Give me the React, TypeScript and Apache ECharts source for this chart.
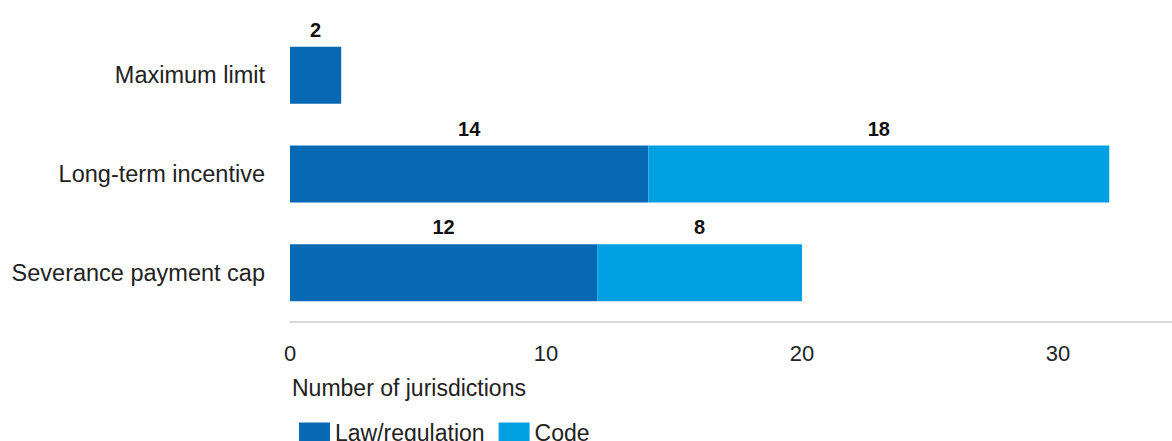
import React, { useEffect, useRef } from "react";
import * as echarts from "echarts";

const categories = ["Severance payment cap", "Long-term incentive", "Maximum limit"];
const lawValues = [12, 14, 2];
const codeValues = [8, 18, 0];
const seriesNames = ["Law/regulation", "Code"];
const axisTitle = "Number of jurisdictions";

const FONT = "'Liberation Sans', Arial, sans-serif";

export default function App() {
  const ref = useRef<HTMLDivElement>(null);
  useEffect(() => {
    if (!ref.current) return;
    const chart = echarts.init(ref.current, undefined, { renderer: "svg" });
    const labelCfg = {
      show: true,
      position: "top" as const,
      distance: 7,
      color: "#111",
      fontWeight: "bold" as const,
      fontSize: 20,
      fontFamily: FONT,
      formatter: (p: any) => (p.value ? String(p.value) : ""),
    };
    chart.setOption({
      animation: false,
      backgroundColor: "#fff",
      textStyle: { fontFamily: FONT },
      grid: { left: 290, right: 0, top: 26, height: 296 },
      xAxis: {
        type: "value",
        min: 0,
        max: 34.45,
        interval: 10,
        axisLine: { show: true, lineStyle: { color: "#d9d9d9", width: 2 } },
        axisTick: { show: false },
        splitLine: { show: false },
        axisLabel: { color: "#222", fontSize: 22, margin: 20, fontFamily: FONT, showMaxLabel: false },
      },
      yAxis: {
        type: "category",
        data: categories,
        axisLine: { show: false },
        axisTick: { show: false },
        axisLabel: { color: "#222", fontSize: 23.5, margin: 25, fontFamily: FONT },
      },
      legend: {
        left: 294,
        top: 416,
        itemWidth: 31,
        itemHeight: 20,
        itemGap: 14,
        icon: "rect",
        textStyle: { color: "#222", fontSize: 23, fontFamily: FONT },
        data: seriesNames,
      },
      graphic: [
        {
          type: "text",
          left: 292,
          top: 376,
          style: { text: axisTitle, fill: "#222", font: `23px ${FONT}` },
        },
      ],
      series: [
        {
          name: seriesNames[0],
          type: "bar",
          stack: "total",
          barWidth: 57,
          data: lawValues,
          itemStyle: { color: "#0769b3" },
          label: labelCfg,
        },
        {
          name: seriesNames[1],
          type: "bar",
          stack: "total",
          barWidth: 57,
          data: codeValues,
          itemStyle: { color: "#00a0e2" },
          label: labelCfg,
        },
      ],
    });
    return () => chart.dispose();
  }, []);
  return <div ref={ref} style={{ width: 1172, height: 441, position: "absolute", left: 0, top: 0 }} />;
}
